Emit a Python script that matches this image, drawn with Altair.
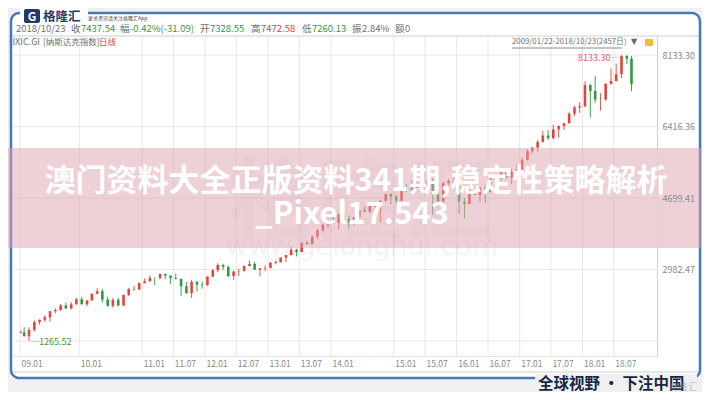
import altair as alt
import pandas as pd
import numpy as np

FONT = "Noto Sans CJK SC"
GRAY = "#707070"
GREEN = "#2f9a3f"
RED = "#e2453c"
NAVY = "#223a68"
BG = "#eef0f2"

# ---------------- data ----------------
candle_dates = ["2009-01-27"] + [
    f"{y}-{m:02d}-15" for y in range(2009, 2019) for m in range(1, 13)
    if (2009, 1) < (y, m) < (2018, 10)
] + ["2018-10-12"]

closes = [
    1476, 1377, 1529, 1717, 1774, 1835, 1979, 2009, 2122, 2045, 2145, 2269,
    2147, 2238, 2398, 2461, 2257, 2109, 2255, 2114, 2369, 2507, 2498, 2653,
    2700, 2782, 2781, 2874, 2835, 2774, 2756, 2579, 2415, 2684, 2620, 2605,
    2814, 2967, 3092, 3046, 2827, 2935, 2940, 3067, 3116, 2977, 3010, 3020,
    3142, 3160, 3268, 3329, 3456, 3403, 3626, 3590, 3771, 3920, 4060, 4177,
    4104, 4308, 4199, 4115, 4243, 4408, 4370, 4580, 4493, 4631, 4792, 4736,
    4635, 4964, 4901, 4941, 5070, 4987, 5128, 4777, 4620, 5054, 5109, 5007,
    4614, 4558, 4870, 4775, 4948, 4843, 5162, 5213, 5312, 5189, 5324, 5383,
    5615, 5825, 5912, 6048, 6199, 6140, 6348, 6429, 6496, 6728, 6874, 6903,
    7411, 7273, 7063, 7066, 7442, 7510, 7672, 8110, 8046, 7437.54,
]
highs = [
    1520, 1595, 1590, 1760, 1780, 1880, 1985, 2050, 2150, 2190, 2200, 2295,
    2326, 2250, 2415, 2535, 2520, 2330, 2300, 2300, 2380, 2540, 2592, 2675,
    2766, 2840, 2790, 2888, 2887, 2835, 2888, 2765, 2680, 2735, 2710, 2690,
    2815, 2985, 3135, 3120, 3080, 2950, 3000, 3080, 3197, 3170, 3020, 3080,
    3160, 3200, 3270, 3330, 3530, 3480, 3630, 3675, 3800, 3960, 4070, 4180,
    4250, 4320, 4370, 4270, 4250, 4410, 4490, 4580, 4610, 4650, 4810, 4815,
    4780, 4970, 5040, 5120, 5100, 5160, 5230, 5175, 4920, 5090, 5160, 5180,
    5010, 4700, 4900, 4970, 4960, 4990, 5180, 5270, 5340, 5340, 5400, 5510,
    5670, 5870, 5920, 6100, 6320, 6340, 6460, 6440, 6500, 6760, 6915, 7005,
    7505, 7440, 7640, 7220, 7460, 7810, 7930, 8133.30, 8130, 8110,
]
lows = [
    1440, 1377, 1265.52, 1490, 1655, 1720, 1727, 1930, 1990, 2040, 2025, 2145,
    2140, 2100, 2238, 2393, 2185, 2090, 2061, 2100, 2110, 2345, 2470, 2498,
    2650, 2690, 2603, 2745, 2750, 2630, 2745, 2345, 2400, 2300, 2450, 2520,
    2590, 2800, 2920, 2970, 2800, 2730, 2820, 2940, 3050, 2970, 2810, 2940,
    3010, 3105, 3150, 3155, 3320, 3295, 3400, 3580, 3590, 3710, 3860, 3980,
    4080, 3950, 4140, 3950, 4030, 4210, 4360, 4340, 4480, 4120, 4600, 4550,
    4560, 4620, 4840, 4850, 4890, 4960, 4900, 4290, 4490, 4570, 5000, 4920,
    4310, 4210, 4550, 4770, 4600, 4575, 4830, 5140, 5140, 5170, 5030, 5280,
    5370, 5600, 5770, 5800, 6030, 6090, 6100, 6150, 6330, 6490, 6660, 6740,
    6880, 6630, 6990, 6800, 7030, 7420, 7500, 7580, 7920, 7260.13,
]
opens = [1465] + closes[:-1]

x_ticks = ["2009-01-22", "2010-01-01", "2011-01-01", "2011-07-01", "2012-01-01",
           "2012-07-01", "2013-01-01", "2013-07-01", "2014-01-01", "2015-01-01",
           "2015-07-01", "2016-01-01", "2016-07-01", "2017-01-01", "2017-07-01",
           "2018-01-01", "2018-07-01"]
y_grid = [1265.52, 2982.47, 4699.41, 6416.36, 8133.30]
y_labels = [2982.47, 4699.41, 6416.36, 8133.30]

df = pd.DataFrame(dict(date=candle_dates, open=opens, high=highs, low=lows, close=closes))
df["dir"] = np.where(df["close"] >= df["open"], "up", "down")
df_max = df.loc[[df["high"].idxmax()]].assign(lbl=lambda d: d["high"].map(lambda v: f"{v:.2f}─"))
df_min = df.loc[[df["low"].idxmin()]].assign(lbl=lambda d: d["low"].map(lambda v: f"─{v:.2f}"))


def ms(s):
    return int(pd.Timestamp(s, tz="UTC").timestamp() * 1000)


XS = alt.Scale(type="utc", domain=[ms("2009-01-16"), ms("2019-02-08")])
YS = alt.Scale(domain=[904, 8591], zero=False, nice=False)
CS = alt.Scale(domain=["up", "down"], range=[RED, GREEN])

X_AX = alt.Axis(values=[ms(t) for t in x_ticks],
                labelExpr="utcFormat(datum.value, '%y.%m')",
                labelAlign="left", labelBaseline="top", labelPadding=3, labelOffset=1,
                labelColor="#8a8a8a", labelFontSize=8.5, labelFont=FONT,
                labelFlush=False, labelOverlap=False, labelBound=False,
                ticks=False, grid=False, domainColor="#b5b5b5", domainDash=[1, 2],
                title=None, zindex=1)
Y_AX = alt.Axis(orient="right", values=y_labels, format=".2f",
                labelColor="#8a8a8a", labelFontSize=9, labelFont=FONT, labelPadding=5,
                labelOverlap=False, labelFlush=False,
                ticks=False, grid=False, domainColor="#d2d2d2", title=None, zindex=1)

ONE = alt.Data(values=[{"a": 1}])
OX, OY = 14, 36  # page position of the plot origin


def T(text, x, y, color=GRAY, size=9.5, weight="normal", align="left", opacity=1.0, font=FONT):
    return alt.Chart(ONE).mark_text(
        text=text, align=align, baseline="middle", fontSize=size, fontWeight=weight,
        color=color, font=font, opacity=opacity
    ).encode(x=alt.value(x - OX), y=alt.value(y - OY))


def R(x, x2, y, y2, **kw):
    return alt.Chart(ONE).mark_rect(**kw).encode(
        x=alt.value(x - OX), x2=alt.value(x2 - OX), y=alt.value(y - OY), y2=alt.value(y2 - OY))


def HL(x, x2, y, color, width=1):
    return alt.Chart(ONE).mark_rule(color=color, strokeWidth=width).encode(
        x=alt.value(x - OX), x2=alt.value(x2 - OX), y=alt.value(y - OY))


layers = []
# white panel inside the frame
layers.append(R(11, 700, 13, 378, color="white"))

# grid
layers.append(alt.Chart(pd.DataFrame({"d": x_ticks})).mark_rule(color="#e7e7e7", strokeWidth=1)
              .encode(x=alt.X("d:T", scale=XS, axis=X_AX)))
layers.append(alt.Chart(pd.DataFrame({"v": y_grid})).mark_rule(color="#e7e7e7", strokeWidth=1)
              .encode(y=alt.Y("v:Q", scale=YS, axis=Y_AX)))

# watermark
layers.append(T("格隆汇", 360, 205, color="#000000", size=88, weight="bold", align="center", opacity=0.03))
layers.append(T("www.gelonghui.com", 362, 247, color="#000000", size=27, align="center",
                opacity=0.045, font="DejaVu Sans"))

# candles
layers.append(alt.Chart(df).mark_rule(strokeWidth=0.9).encode(
    x=alt.X("date:T", scale=XS, axis=X_AX),
    y=alt.Y("low:Q", scale=YS, axis=Y_AX), y2="high:Q",
    color=alt.Color("dir:N", scale=CS, legend=None)))
layers.append(alt.Chart(df).mark_bar(size=2.6).encode(
    x=alt.X("date:T", scale=XS, axis=X_AX),
    y=alt.Y("open:Q", scale=YS, axis=Y_AX), y2="close:Q",
    color=alt.Color("dir:N", scale=CS, legend=None)))

# max / min annotations
layers.append(alt.Chart(df_max).mark_text(align="right", baseline="middle", dx=-2, dy=3,
                                          fontSize=9, font=FONT, color="#e0607a").encode(
    x=alt.X("date:T", scale=XS, axis=X_AX), y=alt.Y("high:Q", scale=YS, axis=Y_AX), text="lbl:N"))
layers.append(alt.Chart(df_min).mark_text(align="left", baseline="middle", dx=1, dy=1,
                                          fontSize=9, font=FONT, color="#3f9c3f").encode(
    x=alt.X("date:T", scale=XS, axis=X_AX), y=alt.Y("low:Q", scale=YS, axis=Y_AX), text="lbl:N"))

# header separator and axis-band bottom line
layers.append(HL(11, 700, 36, "#cfcfcf"))
layers.append(HL(11, 700, 372, "#cfcfcf"))

# frame
layers.append(R(11, 700, 13, 378, fillOpacity=0, stroke="#4a77b6", strokeWidth=2.5, cornerRadius=8))

# logo area
layers.append(R(20, 88, 8, 22, color="white"))
layers.append(R(24, 40, 9, 23, color=NAVY, cornerRadius=2))
layers.append(T("G", 32, 16.5, color="white", size=12, weight="bold", align="center"))
layers.append(T("格隆汇", 43, 17, color=NAVY, size=12.5, weight="bold"))
layers.append(T("更多资讯请关注格隆汇App", 88, 18, color="#444444", size=5))

# info line
iy = 29
for x, txt, col in [(16, "2018/10/23", GRAY), (71, "收", GRAY), (81, "7437.54", GREEN),
                    (120, "幅", GRAY), (130, "-0.42%(-31.09)", GREEN), (200, "开", GRAY),
                    (210, "7328.55", GREEN), (251, "高", GRAY), (261, "7472.58", RED),
                    (302, "低", GRAY), (312, "7260.13", GREEN), (352, "振", GRAY),
                    (362, "2.84%", GRAY), (395, "额", GRAY), (405, "0", GRAY)]:
    layers.append(T(txt, x, iy, color=col, size=9.5))

# second line
layers.append(T("IXIC.GI", 40, 42, color=GRAY, size=9, align="right"))
layers.append(T("[纳斯达克指数]", 43, 42, color=GRAY, size=8.5))
layers.append(T("日线", 99, 42, color=RED, size=8.5))
layers.append(T("2009/01/22-2018/10/23(2457日)", 512, 42, color=GRAY, size=7.8))
layers.append(HL(512, 622, 48, "#8a8a8a"))
layers.append(T("▼", 631, 42, color="#666666", size=8, font="DejaVu Sans"))
layers.append(R(645, 653, 39, 46, color="#f0c030", cornerRadius=1))

# overlay banner
layers.append(R(0, 710, 148, 248, color="#dba3b0", opacity=0.5))
layers.append(T("澳门资料大全正版资料341期,稳定性策略解析", 356, 182, color="white", size=31,
                weight="bold", align="center"))
layers.append(T("_Pixel17.543", 352, 215, color="white", size=31, weight="bold", align="center"))

# slogan
layers.append(R(535, 697, 374, 400, color=BG))
layers.append(T("全球视野 · 下注中国", 538, 384, color="#1c2742", size=15.5, weight="bold"))
layers.append(T("格隆汇", 670, 387, color="#9aa0aa", size=9, opacity=0.55))

chart = alt.layer(*layers).properties(
    width=643, height=320,
    autosize=alt.AutoSizeParams(type="none"),
    padding={"left": 6, "top": 28, "right": 45, "bottom": 36},
    background=BG,
).configure_view(stroke=None)

chart.save("out.html", embed_options={"renderer": "svg", "actions": False})
